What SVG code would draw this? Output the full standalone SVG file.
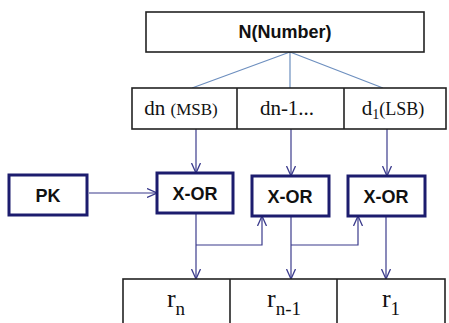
<svg xmlns="http://www.w3.org/2000/svg" width="449" height="323" viewBox="0 0 449 323">
<style>
.cell{fill:#fff;stroke:#222;stroke-width:1.6}
.gate{fill:#fff;stroke:#1c1c6e;stroke-width:3}
.sans{font-family:"Liberation Sans",Arial,sans-serif;font-weight:bold;fill:#111;text-anchor:middle}
.serif{font-family:"Liberation Serif","Times New Roman",serif;fill:#111;text-anchor:middle}
.con{fill:none;stroke:#3b3b8c;stroke-width:1.2}
.fan{fill:none;stroke:#6d8fbf;stroke-width:1.2}
</style>
<defs>
<marker id="ah" viewBox="0 0 10 10" refX="10" refY="5" markerWidth="10" markerHeight="10" markerUnits="userSpaceOnUse" orient="auto">
<path d="M0,0.5 L10,5 L0,9.5" fill="none" stroke="#3b3b8c" stroke-width="1.3"/>
</marker>
</defs>
<rect width="449" height="323" fill="#fff"/>
<g id="connectors">
<path class="fan" d="M290,52 L192,88 M290,52 L290,88 M290,52 L383,88"/>
<path class="con" d="M196,129 V173" marker-end="url(#ah)"/>
<path class="con" d="M291,129 V176" marker-end="url(#ah)"/>
<path class="con" d="M387,129 V176" marker-end="url(#ah)"/>
<path class="con" d="M89,193 H157" marker-end="url(#ah)"/>
<path class="con" d="M196,214 V279" marker-end="url(#ah)"/>
<path class="con" d="M196,245 H262 V216" marker-end="url(#ah)"/>
<path class="con" d="M291,217 V279" marker-end="url(#ah)"/>
<path class="con" d="M291,245 H358 V216" marker-end="url(#ah)"/>
<path class="con" d="M386,217 V279" marker-end="url(#ah)"/>
</g>
<g id="number">
<rect class="cell" x="146" y="12" width="278" height="40"/>
<text class="sans" x="285" y="38" font-size="18">N(Number)</text>
</g>
<g id="digits">
<rect class="cell" x="132" y="88" width="314" height="41"/>
<line class="cell" x1="237" y1="88" x2="237" y2="129"/>
<line class="cell" x1="344" y1="88" x2="344" y2="129"/>
<text class="serif" x="181" y="115" font-size="21">dn <tspan font-size="17">(MSB)</tspan></text>
<text class="serif" x="287" y="115" font-size="21">dn-1...</text>
<text class="serif" x="393" y="115" font-size="21">d<tspan font-size="14" dy="4">1</tspan><tspan font-size="18" dy="-4">(LSB)</tspan></text>
</g>
<g id="pk">
<rect class="gate" x="9" y="175" width="78" height="40"/>
<text class="sans" x="48" y="202" font-size="18">PK</text>
</g>
<g id="xor1">
<rect class="gate" x="157" y="173" width="76" height="40"/>
<text class="sans" x="195" y="200" font-size="18">X-OR</text>
</g>
<g id="xor2">
<rect class="gate" x="252" y="176" width="77" height="40"/>
<text class="sans" x="290" y="203" font-size="18">X-OR</text>
</g>
<g id="xor3">
<rect class="gate" x="348" y="176" width="77" height="40"/>
<text class="sans" x="386" y="203" font-size="18">X-OR</text>
</g>
<g id="results">
<rect class="cell" x="123" y="279" width="322" height="60"/>
<line class="cell" x1="230" y1="279" x2="230" y2="330"/>
<line class="cell" x1="337" y1="279" x2="337" y2="330"/>
<text class="serif" x="176" y="307" font-size="26">r<tspan font-size="19" dy="8">n</tspan></text>
<text class="serif" x="284" y="307" font-size="26">r<tspan font-size="19" dy="8">n-1</tspan></text>
<text class="serif" x="391" y="307" font-size="26">r<tspan font-size="19" dy="8">1</tspan></text>
</g>
</svg>
